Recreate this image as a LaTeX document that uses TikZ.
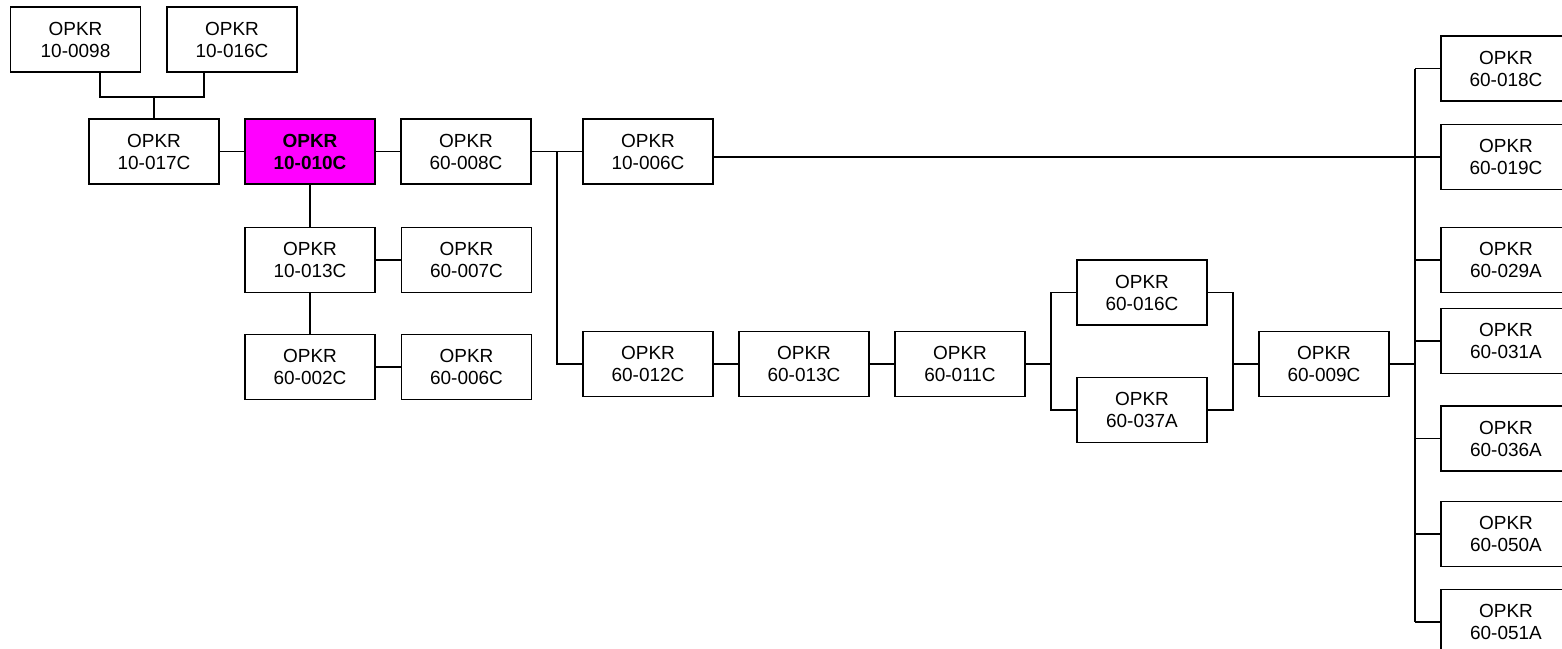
\documentclass[tikz,border=0pt]{standalone}
\usepackage{fontspec}
\setmainfont{Liberation Sans}
\usetikzlibrary{calc}
\definecolor{focusfill}{RGB}{255,0,255}

\begin{document}
\begin{tikzpicture}[x=0.02cm, y=-0.02cm,
  every node/.style={font=\fontsize{10.8}{12.5}\selectfont},
  unit/.style={draw, line width=0.9pt, fill=white, align=center, minimum width=2.6cm, minimum height=1.3cm, inner sep=0pt},
  focus/.style={unit, fill=focusfill, font=\fontsize{10.8}{12.5}\selectfont\bfseries},
  link/.style={line width=0.8pt}]
	\useasboundingbox (0,0) rectangle (1562,649);
	\clip (0,0) rectangle (1562,649);
	% upper left group
	\node[unit] (o0098) at (75.5,39.5) {OPKR\\10-0098};
	\node[unit] (o016) at (232,39.5) {OPKR\\10-016C};
	\node[unit] (o017) at (154,151.5) {OPKR\\10-017C};
	\node[focus] (o010) at (310,151.5) {OPKR\\10-010C};
	\node[unit] (s008) at (466,151.5) {OPKR\\60-008C};
	\node[unit] (o006) at (648,151.5) {OPKR\\10-006C};
	\node[unit] (o013) at (310,260) {OPKR\\10-013C};
	\node[unit] (s007) at (466.5,260) {OPKR\\60-007C};
	\node[unit] (s002) at (310,367) {OPKR\\60-002C};
	\node[unit] (s006) at (466.5,367) {OPKR\\60-006C};
	% middle chain
	\node[unit] (s012) at (648,364) {OPKR\\60-012C};
	\node[unit] (s013) at (804,364) {OPKR\\60-013C};
	\node[unit] (s011) at (960,364) {OPKR\\60-011C};
	\node[unit] (s016) at (1142,292.5) {OPKR\\60-016C};
	\node[unit] (s037) at (1142,410) {OPKR\\60-037A};
	\node[unit] (s009) at (1324,364) {OPKR\\60-009C};
	% right column
	\foreach \n/\y/\t in {s018/68.5/60-018C, s019/157/60-019C, s029/260/60-029A, s031/341/60-031A, s036/438.5/60-036A, s050/534/60-050A, s051/622/60-051A}
		\node[unit] (\n) at (1506,\y) {OPKR\\\t};

	\coordinate (jl) at (100,97);
	\coordinate (jr) at (204,97);
	\draw[link] (jl |- o0098.south) -- (jl) -- (jr) -- (jr |- o016.south);
	\draw[link] (o017.north |- jl) -- (o017.north);
	\draw[link] (o017.east) -- (o010.west);
	\draw[link] (o010.east) -- (s008.west);
	\draw[link] (o010.south) -- (o013.north);
	\draw[link] (o013.east) -- (s007.west);
	\draw[link] (o013.south) -- (s002.north);
	\draw[link] (s002.east) -- (s006.west);
	\draw[link] (s008.east) -- (o006.west);
	\coordinate (br) at ($(s008.east)!0.5!(o006.west)$);
	\draw[link] (br) |- (s012.west);
	\draw[link] (s012.east) -- (s013.west);
	\draw[link] (s013.east) -- (s011.west);
	\coordinate (sl) at ($(s011.east)!0.5!(s016.west |- s011.east)$);
	\draw[link] (s011.east) -- (sl);
	\draw[link] (s016.west) -| (sl) |- (s037.west);
	\coordinate (sr) at ($(s016.east |- s009.west)!0.5!(s009.west)$);
	\draw[link] (s016.east) -| (sr) |- (s037.east);
	\draw[link] (sr) -- (s009.west);
	\coordinate (tk) at ($(s009.east)!0.5!(s009.east -| s018.west)$);
	\draw[link] (s009.east) -- (tk);
	\draw[link] (tk |- s018.west) -- (tk |- s051.west);
	\foreach \r in {s018,s019,s029,s031,s036,s050,s051}
		\draw[link] (tk |- \r.west) -- (\r.west);
	\draw[link] (o006.east |- s019.west) -- (s019.west);
\end{tikzpicture}
\end{document}
